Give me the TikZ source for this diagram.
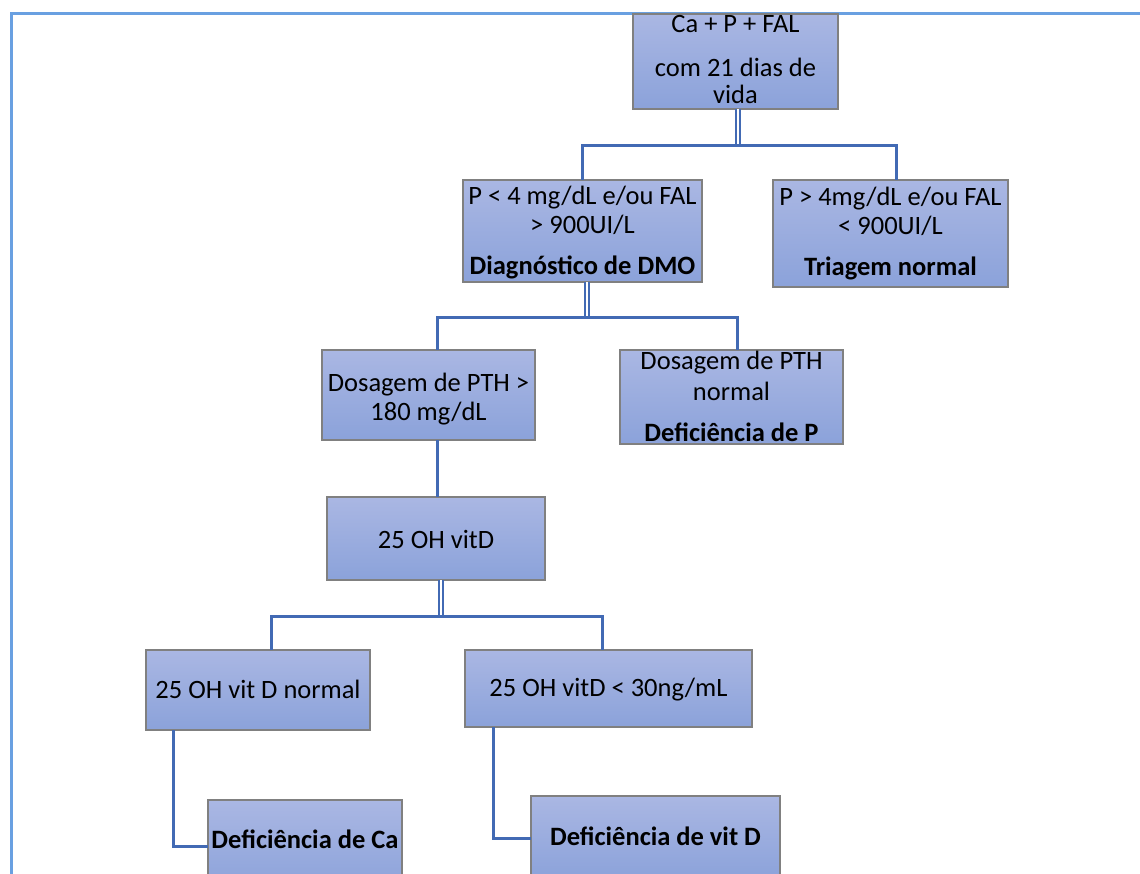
\documentclass[tikz,border=0pt]{standalone}
\usepackage{fontspec}
\setmainfont{Carlito}
\definecolor{linec}{RGB}{66,106,180}
\definecolor{framec}{RGB}{105,160,225}
\definecolor{boxtop}{RGB}{170,183,227}
\definecolor{boxbot}{RGB}{139,162,218}
\definecolor{boxline}{RGB}{128,128,128}
\tikzset{
  box/.style={rectangle, draw=boxline, line width=1.8pt, top color=boxtop, bottom color=boxbot, inner sep=0pt, outer sep=0pt},
  txt/.style={inner sep=0pt, outer sep=0pt, anchor=base, font=\fontsize{26.5}{29}\selectfont},
  btxt/.style={txt, font=\fontsize{26.5}{29}\selectfont\bfseries},
  conn/.style={draw=linec, line width=3pt},
  dbl/.style={draw=linec, line width=1.8pt, double=white, double distance=1.8pt},
}
\begin{document}
\begin{tikzpicture}[x=1pt, y=-1pt]
\useasboundingbox (0,0) rectangle (1140,874);
\clip (0,0) rectangle (1140,874);
\fill[white] (0,0) rectangle (1140,874);
% frame
\draw[framec, line width=3pt] (11,900) -- (11,14) -- (1145,14);
% boxes
\node[box, minimum width=205pt, minimum height=95pt] (A) at (735.5,61.5) {};
\node[box, minimum width=239pt, minimum height=102pt] (B) at (582.5,231) {};
\node[box, minimum width=235pt, minimum height=107pt] (C) at (890.5,233.5) {};
\node[box, minimum width=213pt, minimum height=90pt] (D) at (428.5,395) {};
\node[box, minimum width=223pt, minimum height=94pt] (E) at (731.5,397) {};
\node[box, minimum width=218pt, minimum height=83pt] (F) at (436,538.5) {};
\node[box, minimum width=224pt, minimum height=80pt] (G) at (258,690) {};
\node[box, minimum width=287pt, minimum height=77pt] (H) at (608.5,688.5) {};
\node[box, minimum width=194pt, minimum height=92pt] (I) at (305,846) {};
\node[box, minimum width=249pt, minimum height=84pt] (J) at (655.5,838) {};
% texts
\node[txt] (A1) at (735.5,33) {Ca + P + FAL};
\node[txt] (A2) at (735.5,77) {com 21 dias de};
\node[txt] (A3) at (735.5,104) {vida};
\node[txt] (B1) at (582.5,205) {P < 4 mg/dL e/ou FAL};
\node[txt] (B2) at (582.5,234) {> 900UI/L};
\node[btxt] (B3) at (582.5,275) {Diagnóstico de DMO};
\node[txt] (C1) at (890.5,206) {P > 4mg/dL e/ou FAL};
\node[txt] (C2) at (890.5,235) {< 900UI/L};
\node[btxt] (C3) at (890.5,276) {Triagem normal};
\node[txt] (D1) at (428.5,391) {Dosagem de PTH >};
\node[txt] (D2) at (428.5,420) {180 mg/dL};
\node[txt] (E1) at (731.5,370) {Dosagem de PTH};
\node[txt] (E2) at (731.5,400) {normal};
\node[btxt] (E3) at (731.5,441) {Deficiência de P};
\node[txt] (F1) at (436,548) {25 OH vitD};
\node[txt] (G1) at (258,698) {25 OH vit D normal};
\node[txt] (H1) at (608.5,696) {25 OH vitD < 30ng/mL};
\node[btxt] (I1) at (305,848) {Deficiência de Ca};
\node[btxt] (J1) at (655.5,845) {Deficiência de vit D};
% junctions
\coordinate (jA) at (738,146);
\coordinate (jB) at (587,318);
\coordinate (jF) at (441,616);
% connectors
\draw[dbl] (A.south -| jA) -- (jA);
\draw[conn] (B.north) |- (jA) -| ([xshift=6pt]C.north);
\draw[dbl] (B.south -| jB) -- (jB);
\draw[conn] ([xshift=8.5pt]D.north) |- (jB) -| ([xshift=5.5pt]E.north);
\draw[conn] ([xshift=8.5pt]D.south) -- ([xshift=8.5pt]D.south |- F.north);
\draw[dbl] (F.south -| jF) -- (jF);
\draw[conn] ([xshift=13pt]G.north) |- (jF) -| ([xshift=-6.5pt]H.north);
\draw[conn] ([xshift=-85pt]G.south) |- (I.west);
\draw[conn] ([xshift=-115.5pt]H.south) |- (J.west);
\end{tikzpicture}
\end{document}
